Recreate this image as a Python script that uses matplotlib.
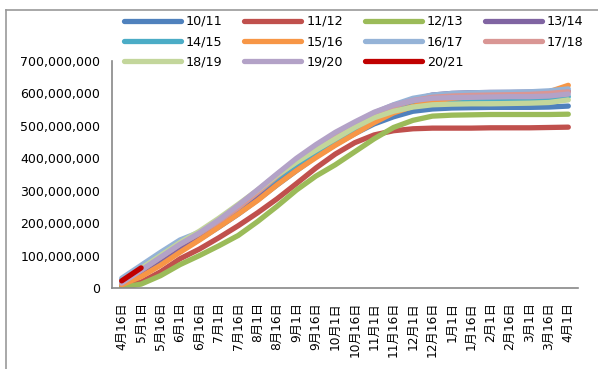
import numpy as np
import matplotlib.pyplot as plt
from matplotlib.lines import Line2D
from matplotlib.ticker import FuncFormatter

plt.rcParams['font.family'] = ['DejaVu Sans', 'Noto Sans CJK SC']

# category axis: half-month dates of the marketing year
dates = ['4月16日', '5月1日', '5月16日', '6月1日', '6月16日', '7月1日', '7月16日',
         '8月1日', '8月16日', '9月1日', '9月16日', '10月1日', '10月16日', '11月1日',
         '11月16日', '12月1日', '12月16日', '1月1日', '1月16日', '2月1日', '2月16日',
         '3月1日', '3月16日', '4月1日']

# cumulative values, millions
s1011 = [15, 45, 80, 115, 150, 188, 228, 272, 318, 362, 405, 442, 476, 506, 528, 545, 552, 555, 556, 557, 557, 557, 558, 561]
s1112 = [5, 18, 50, 90, 120, 155, 192, 232, 275, 322, 370, 413, 448, 472, 485, 491, 493, 493, 493, 494, 494, 494, 495, 496]
s1213 = [2, 12, 38, 72, 100, 130, 162, 205, 252, 302, 345, 380, 420, 460, 495, 517, 530, 533, 534, 535, 535, 535, 535, 536]
s1314 = [15, 50, 90, 125, 160, 198, 238, 285, 332, 380, 422, 462, 498, 533, 558, 580, 595, 600, 602, 603, 603, 604, 605, 607]
s1415 = [25, 60, 105, 140, 170, 208, 248, 295, 340, 382, 420, 455, 490, 520, 545, 565, 575, 580, 582, 583, 583, 584, 585, 590]
s1516 = [10, 35, 70, 110, 148, 188, 228, 270, 318, 362, 402, 440, 475, 510, 540, 560, 575, 585, 590, 593, 595, 597, 605, 625]
s1617 = [30, 70, 110, 148, 172, 210, 252, 300, 350, 395, 435, 472, 505, 540, 565, 585, 595, 600, 602, 603, 604, 605, 608, 614]
s1718 = [20, 55, 95, 135, 168, 206, 248, 295, 345, 390, 430, 467, 500, 535, 560, 578, 588, 592, 594, 595, 596, 597, 600, 605]
s1819 = [20, 60, 100, 140, 175, 215, 258, 302, 348, 388, 425, 460, 495, 525, 545, 558, 565, 567, 568, 568, 569, 570, 572, 580]
s1920 = [15, 55, 95, 135, 170, 210, 255, 303, 352, 400, 442, 480, 512, 542, 564, 578, 585, 587, 588, 589, 590, 590, 592, 598]
s2021 = [22, 62]

names = ['10/11', '11/12', '12/13', '13/14', '14/15', '15/16',
         '16/17', '17/18', '18/19', '19/20', '20/21']
series = [s1011, s1112, s1213, s1314, s1415, s1516, s1617, s1718, s1819, s1920, s2021]
colors = ['#4F81BD', '#C0504D', '#9BBB59', '#8064A2', '#4BACC6', '#F79646',
          '#95B3D7', '#D99694', '#C3D69B', '#B3A2C7', '#C00000']

fig = plt.figure(figsize=(5.98, 3.69), dpi=100)
ax = fig.add_axes([112 / 598, 1 - 288 / 369, 466 / 598, 227 / 369])

handles = []
for vals, name, c in zip(series, names, colors):
    x = np.arange(len(vals))
    h, = ax.plot(x, np.array(vals) * 1e6, color=c, lw=3.8,
                 solid_capstyle='round', solid_joinstyle='round', label=name)
    handles.append(h)

ax.set_xlim(-0.5, len(dates) - 0.5)
ax.set_ylim(0, 700e6)
ax.set_xticks(np.arange(len(dates)))
ax.set_xticklabels(dates, rotation=90, fontsize=8.8, va='top', ha='center')
ax.set_yticks(np.arange(0, 700e6 + 1, 100e6))
ax.yaxis.set_major_formatter(FuncFormatter(lambda v, p: f'{int(v):,}'))
ax.tick_params(axis='y', labelsize=9, length=0, pad=8.5)
ax.tick_params(axis='x', length=0, pad=10)
for side in ['top', 'right']:
    ax.spines[side].set_visible(False)
for side in ['left', 'bottom']:
    ax.spines[side].set_color('#888888')
    ax.spines[side].set_linewidth(1.2)

# legend is filled row by row in the reference, matplotlib fills by column
ncol = 4
order = [0, 4, 8, 1, 5, 9, 2, 6, 10, 3, 7]
leg = fig.legend(handles=[handles[i] for i in order], ncol=ncol, loc='upper left',
                 bbox_to_anchor=(124 / 598, 1 - 15 / 369), frameon=False,
                 fontsize=9.2, handlelength=4.45, handletextpad=0.4,
                 columnspacing=1.7, labelspacing=0.58, borderaxespad=0,
                 borderpad=0)

# outer chart frame (left and top edges visible)
fig.add_artist(Line2D([6 / 598, 6 / 598], [0, 1 - 10 / 369], color='#999999', lw=1.2))
fig.add_artist(Line2D([6 / 598, 1], [1 - 10 / 369, 1 - 10 / 369], color='#999999', lw=1.2))

fig.savefig('out.png', dpi=100)
